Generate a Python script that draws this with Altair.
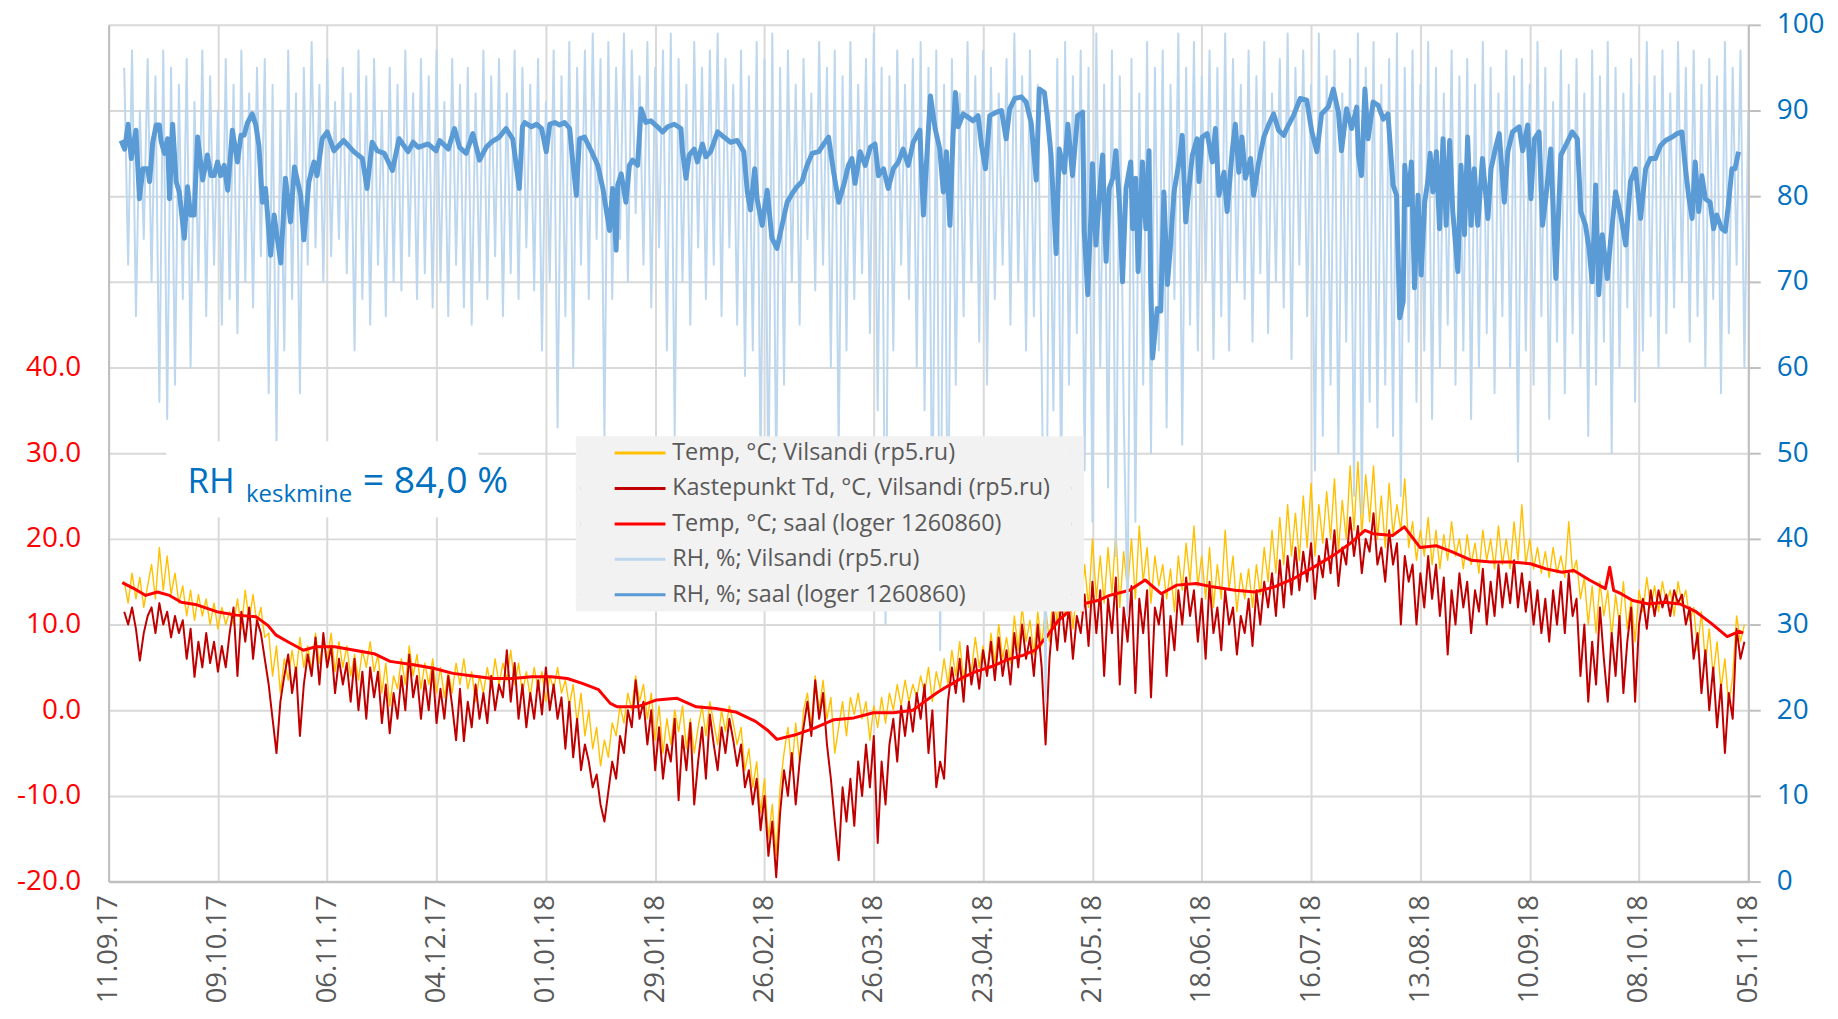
import altair as alt
import pandas as pd

# ---------------- axes / labels ----------------
x_tick_days = [0, 28, 56, 84, 112, 140, 168, 196, 224, 252, 280, 308, 336, 364, 392, 420]
x_tick_labels = ["11.09.17", "09.10.17", "06.11.17", "04.12.17", "01.01.18", "29.01.18",
                 "26.02.18", "26.03.18", "23.04.18", "21.05.18", "18.06.18", "16.07.18",
                 "13.08.18", "10.09.18", "08.10.18", "05.11.18"]
left_ticks = [-20, -10, 0, 10, 20, 30, 40]
right_ticks = [0, 10, 20, 30, 40, 50, 60, 70, 80, 90, 100]

series_names = ["Temp, °C; Vilsandi (rp5.ru)",
                "Kastepunkt Td, °C, Vilsandi (rp5.ru)",
                "Temp, °C; saal (loger 1260860)",
                "RH, %; Vilsandi (rp5.ru)",
                "RH, %; saal (loger 1260860)"]
series_colors = ["#FFC000", "#C00000", "#FF0000", "#BDD7EE", "#5B9BD5"]
line_widths = [1.4, 2.0, 3.0, 2.0, 5.0]

# ---------------- data (days after 11.09.17) ----------------
vil_first_day = 4

temp_vilsandi = [
    15, 12.5, 16, 13, 15.5, 12, 14.5,          # d4
    17, 13, 19, 14, 18, 13.5, 16,              # d11
    12.5, 14.5, 11, 14, 10.5, 13.5, 11,        # d18
    13, 10, 12.5, 9.5, 12, 10, 11.5,           # d25
    10, 13, 9.5, 14, 10.5, 13.5, 10,           # d32
    12, 8.5, 9, 4, 7.5, 2, 6,                  # d39
    3.5, 7, 4, 8.5, 5, 7.5, 4.5,               # d46
    9, 5.5, 8, 6, 9, 4.5, 8,                   # d53
    5, 7.5, 4, 6.5, 3.5, 7, 5,                 # d60
    8, 4.5, 6.5, 2, 5.5, 0.5, 4,               # d67
    2.5, 6, 3, 7.5, 4, 6.5, 2.5,               # d74
    5.5, 3, 6, 2, 5, 1.5, 4.5,                 # d81
    2, 5.5, 3, 6, 2.5, 4.5, 1,                 # d88
    4, 2, 5, 2.5, 6, 3, 5.5,                   # d95
    3.5, 7, 3, 5.5, 2, 4.5, 1.5,               # d102
    5, 2.5, 4.5, 1, 4, 2.5, 5,                 # d109
    2, 3.5, 0.5, 3, -1.5, 2, -3,               # d116
    0, -4.5, -2, -6.5, -3.5, -5.5, -1.5,       # d123
    -3, 0.5, -1.5, 2, 0, 4, 1,                 # d130
    3, -1, 2, -3.5, 0.5, -5, -1,               # d137
    -4, 0, -2.5, 0.5, -4.5, -1, -5,            # d144
    -2, 0.5, -3, 1, -1.5, -4, 0,               # d151
    -2.5, 0.5, -1.5, -4, -2, -7, -4.5,         # d158
    -9, -6, -12, -8, -15, -11, -17,            # d165
    -9, -5, -2, -7, -1.5, -6, 0,               # d172
    2, -2, 4, 0, 3.5, -1, 1.5,                 # d179
    -5, -2, 1, -3, 1.5, -0.5, 2,               # d186
    -1, 1, -3.5, 0.5, -2, 1.5, -1.5,           # d193
    2, 0, 3, 0.5, 3.5, 1, 3,                   # d200
    1.5, 4, 2, 5, 1, 4.5, 2.5,                 # d207
    6, 3, 7, 4, 8, 3.5, 6.5,                   # d214
    4.5, 8.5, 5, 7.5, 4, 9, 5.5,               # d221
    10, 6, 8.5, 5.5, 11, 7, 12,                # d228
    8, 10.5, 6.5, 11.5, 7.5, 12, 8,            # d235
    14, 10, 16.5, 11, 15, 9.5, 14,             # d242
    11.5, 17, 12, 20, 13, 18, 12.5,            # d249
    19, 13.5, 21, 12, 18.5, 14, 20,            # d256
    13, 21.5, 15, 19, 12.5, 18, 14.5,          # d263
    17, 13, 16.5, 11.5, 18, 14, 19.5,          # d270
    15, 21.5, 14.5, 18, 13, 19, 12,            # d277
    17, 13, 21, 14, 18, 11.5, 16,              # d284
    13, 16.5, 12, 17, 13.5, 19, 15,            # d291
    21, 16, 22.5, 17, 24, 18, 23,              # d298
    17.5, 25, 19, 26.5, 18, 24, 19.5,          # d305
    25.5, 20, 27, 18.5, 24.5, 20, 28.5,        # d312
    21, 29, 20.5, 27.5, 22, 28.5, 20,          # d319
    25, 19, 26.5, 20.5, 24, 21, 27,            # d326
    19, 22, 17.5, 21, 18, 22.5, 17,            # d333
    21, 16.5, 20.5, 17.5, 22, 18, 20,          # d340
    16.5, 20.5, 17, 19.5, 16, 21, 17.5,        # d347
    20, 16.5, 21.5, 17, 20, 16.5, 22,          # d354
    17.5, 24, 17, 20, 16.5, 19, 16,            # d361
    18.5, 15.5, 19, 16, 18, 15.5, 22,          # d368
    16, 17.5, 13, 15.5, 10, 14.5, 9,           # d375
    15, 11, 14, 8.5, 13.5, 10, 15,             # d382
    9.5, 13, 8, 14, 11.5, 15.5, 12,            # d389
    14.5, 11.5, 15, 12.5, 14, 11, 15,          # d396
    12.5, 14, 10.5, 12, 7, 11.5, 5.5,          # d403
    9.5, 4, 8, 2.5, 6, 0.5, 4,                 # d410
    11, 8, 10,                                 # d417
]

dew_vilsandi = [
    11.5, 10, 12, 9.5, 5.8, 9, 11,             # d4
    12, 9, 12.5, 10, 11.5, 8.5, 11,            # d11
    9, 10.5, 6, 9.5, 3.9, 8, 5,                # d18
    9, 5.5, 8, 4.5, 7.5, 5, 9,                 # d25
    12, 4, 11.5, 8, 12, 6, 10.5,               # d32
    9, 6, 3, -1, -5, 1, 4,                     # d39
    6.5, 2, 5, -3, 3, 6.5, 4,                  # d46
    8.5, 3, 9, 5, 7.5, 2, 6,                   # d53
    3, 5.5, 1, 6, 0, 4.5, -1,                  # d60
    5, 1.5, 4.5, -1.5, 3, -2.7, 2,             # d67
    -1, 4, 0, 6.5, 1.5, 4, -1,                 # d74
    3.5, 0, 5, -1.5, 2.5, -1, 4,               # d81
    0.5, -3.5, 2.5, -3.6, 1, -2, 3,            # d88
    -1, 2, -1.5, 4, 0, 3, 1.5,                 # d95
    7, 1, 5.5, -1, 3, -2, 2,                   # d102
    -1, 3.5, -0.5, 5, 0, 3, -1,                # d109
    1.5, -4.5, 1, -5.5, -1, -7, -4,            # d116
    -6, -9, -7.5, -11, -13, -9.5, -6,          # d123
    -8, -3, -5, 0, -2, 3.5, -1,                # d130
    1, -4, 0, -7, -2, -8, -4,                  # d137
    -6, -1, -10.5, -3, -7, -1.5, -11,          # d144
    -6, -2, -8, -0.5, -4, -7, -2,              # d151
    -5, -1, -3.5, -6.5, -4, -9, -7,            # d158
    -11, -8, -14, -10, -17, -13, -19.5,        # d165
    -12, -7, -10, -5, -11, -6, -2,             # d172
    1, -3, 3.5, -1, 2, -4, -8,                 # d179
    -13, -17.5, -9, -13, -8, -13.5, -6,        # d186
    -10, -4, -9, -3, -15.5, -6, -11,           # d193
    -4, -1, -6, 0.5, -3, 1, -2.5,              # d200
    2, -1, 3, -5, 0, -9, -6,                   # d207
    -8, 1, 5, 2, 6, 1, 7.5,                    # d214
    3, 6, 2.5, 7, 4, 8, 3.5,                   # d221
    8.5, 4, 7, 3, 9, 5, 10,                    # d228
    6, 8.5, 4, 10, 5, -4, 6,                   # d235
    11.5, 7, 13, 8, 12, 6, 11,                 # d242
    9, 13.5, 7.5, 15, 9, 14, 4,                # d249
    13, 9, 15.5, 3, 12, 8, 14.5,               # d256
    2, 13, 9, 14, 1.5, 12, 10,                 # d263
    13.5, 4, 11, 7, 14, 10, 15.5,              # d270
    11, 14, 8, 13, 6, 15, 9,                   # d277
    12, 7, 14, 10, 12, 6.5, 11,                # d284
    9, 13, 7.5, 14, 10, 15, 12,                # d291
    16, 11, 17.5, 12, 18, 13.5, 19,            # d298
    14, 18.5, 15, 19.5, 13, 18, 15.5,          # d305
    20, 16, 21, 14.5, 19, 17, 22.5,            # d312
    18, 21.5, 16, 20, 18.5, 23, 17,            # d319
    19, 15, 21, 17, 19.5, 10, 18,              # d326
    15, 17, 10, 16, 12, 18, 13,                # d333
    17, 11, 15.5, 6.5, 14, 10, 16,             # d340
    12, 15, 9, 14, 11.5, 16.5, 10,             # d347
    15, 11, 17, 12, 16, 12.5, 17.5,            # d354
    12, 16, 11.5, 15, 10, 14, 9,               # d361
    13, 8, 14, 10, 15, 9, 16,                  # d368
    11, 13, 4, 10, 1, 8, 3,                    # d375
    12, 6, 1, 9, 4, 11, 2,                     # d382
    8, 12, 1, 10, 13, 9.5, 14,                 # d389
    11, 14, 12, 13.5, 11, 14, 12.5,            # d396
    13.5, 10, 12, 6, 9, 2, 7,                  # d403
    0, 5, -2, 3, -5, 2, -1,                    # d410
    9.5, 6, 8,                                 # d417
]

rh_vilsandi = [
    95, 72, 97, 66, 90, 75, 96,    # d4
    70, 94, 56, 97, 54, 95, 58,    # d11
    93, 68, 96, 60, 91, 70, 97,    # d18
    66, 94, 72, 90, 65, 96, 68,    # d25
    93, 64, 97, 70, 92, 67, 95,    # d32
    73, 96, 57, 93, 51, 90, 62,    # d39
    97, 68, 92, 57, 95, 72, 98,    # d46
    74, 93, 70, 96, 73, 91, 75,    # d53
    95, 71, 92, 62, 97, 68, 94,    # d60
    65, 96, 72, 90, 66, 95, 70,    # d67
    93, 69, 97, 73, 92, 68, 96,    # d74
    71, 94, 67, 97, 70, 91, 66,    # d81
    96, 72, 93, 67, 95, 65, 92,    # d88
    70, 97, 68, 94, 73, 96, 66,    # d95
    92, 71, 97, 68, 95, 74, 93,    # d102
    69, 96, 62, 91, 70, 97, 53,    # d109
    94, 66, 98, 60, 95, 72, 97,    # d116
    68, 99, 75, 96, 52, 98, 68,    # d123
    95, 75, 99, 70, 97, 78, 94,    # d130
    72, 98, 67, 95, 74, 97, 62,    # d137
    99, 52, 96, 70, 93, 65, 98,    # d144
    74, 95, 68, 97, 72, 99, 66,    # d151
    96, 74, 93, 65, 97, 59, 94,    # d158
    62, 98, 48, 96, 44, 99, 46,    # d165
    95, 58, 97, 70, 93, 65, 96,    # d172
    75, 92, 69, 98, 72, 95, 60,    # d179
    97, 50, 94, 62, 98, 68, 93,    # d186
    71, 96, 64, 99, 55, 95, 30,    # d193
    94, 62, 97, 72, 93, 68, 96,    # d200
    60, 98, 55, 95, 40, 97, 27,    # d207
    93, 35, 96, 58, 92, 66, 98,    # d214
    70, 94, 63, 97, 58, 95, 68,    # d221
    92, 72, 96, 65, 99, 70, 94,    # d228
    62, 97, 66, 93, 60, 21, 90,    # d235
    55, 96, 45, 98, 58, 94, 64,    # d242
    97, 48, 95, 42, 99, 60, 93,    # d249
    46, 97, 38, 94, 55, 31, 96,    # d256
    42, 92, 58, 98, 50, 95, 62,    # d263
    97, 53, 93, 68, 99, 51, 95,    # d270
    65, 98, 62, 94, 70, 97, 61,    # d277
    95, 66, 99, 62, 96, 70, 93,    # d284
    68, 97, 63, 94, 71, 98, 64,    # d291
    92, 70, 96, 67, 99, 61, 95,    # d298
    72, 97, 66, 93, 48, 99, 52,    # d305
    94, 58, 97, 50, 92, 63, 96,    # d312
    45, 99, 43, 95, 56, 98, 53,    # d319
    93, 58, 96, 52, 99, 45, 95,    # d326
    63, 97, 56, 93, 62, 98, 54,    # d333
    95, 60, 92, 65, 97, 58, 94,    # d340
    62, 96, 54, 93, 60, 98, 64,    # d347
    95, 57, 92, 66, 97, 60, 94,    # d354
    49, 96, 62, 93, 58, 98, 66,    # d361
    95, 54, 91, 63, 97, 57, 93,    # d368
    64, 96, 60, 92, 52, 97, 58,    # d375
    94, 63, 98, 50, 95, 60, 92,    # d382
    67, 96, 56, 93, 62, 98, 66,    # d389
    94, 60, 97, 64, 92, 67, 98,    # d396
    70, 95, 63, 97, 66, 93, 60,    # d403
    96, 68, 94, 57, 98, 64, 95,    # d410
    72, 97, 60, 90,                # d417
]

temp_saal = [
    (3.5, 14.9), (6.5, 14.2), (9.5, 13.4), (12.5, 13.8), (15.6, 13.4), (18.6, 12.6),
    (22.6, 12.3), (27.7, 11.5), (32.7, 11.1), (37.8, 10.9), (40.8, 9.9), (42.8, 8.8),
    (45.9, 8.0), (49.9, 7.0), (52.9, 7.4), (57.9, 7.4), (63, 7.0), (68, 6.6),
    (72.1, 5.7), (78.1, 5.3), (83.2, 4.9), (88.2, 4.3), (93.3, 4.0), (98.3, 3.7),
    (103.4, 3.7), (108.4, 3.9), (113.4, 3.9), (117.5, 3.7), (121.5, 3.1), (125.5, 2.4),
    (128.5, 0.8), (130.3, 0.4), (135.4, 0.4), (140.4, 1.2), (145.5, 1.4), (150.5, 0.4),
    (155.6, 0.2), (160.6, -0.2), (165.7, -1.3), (168.7, -2.3), (171.2, -3.4), (175.7, -2.9),
    (180.8, -2.1), (185.8, -1.1), (190.9, -0.9), (195.9, -0.3), (201, -0.3), (206, 0.0),
    (209, 1.0), (212.1, 2.0), (214.1, 2.6), (216.1, 3.1), (219.1, 3.9), (222.1, 4.5),
    (226.2, 5.1), (230.2, 5.9), (234.2, 6.4), (237.3, 7.0), (240.3, 8.6), (243.3, 10.5),
    (246.4, 11.7), (249.4, 12.4), (253.4, 12.8), (256.4, 13.4), (261.5, 14.0), (265.5, 15.2),
    (269.6, 13.6), (273.6, 14.6), (278.6, 14.8), (282.7, 14.4), (288.5, 14.0), (293.6, 13.8),
    (298.6, 14.4), (303.7, 15.4), (308.7, 16.7), (313.8, 18.1), (317.8, 19.4), (321.8, 21.0),
    (323.9, 20.6), (328.9, 20.4), (331.9, 21.4), (335.9, 19.0), (340, 19.2), (344, 18.5),
    (349.1, 17.5), (354.1, 17.3), (359.2, 17.3), (364.2, 17.1), (368.2, 16.5), (372.3, 16.1),
    (375.3, 16.3), (379.3, 15.2), (383.4, 14.2), (384.5, 16.7), (385.5, 14.0), (387.4, 13.6),
    (390.4, 12.8), (394.5, 12.4), (398.5, 12.6), (402.5, 12.4), (406.6, 11.5), (410.6, 10.1),
    (414.6, 8.6), (417.7, 9.2), (418.7, 9.0),
]

rh_saal = [
    (3.2, 86.5), (4.1, 85.5), (5.0, 88.4), (5.8, 84.4), (7.0, 87.7), (7.9, 79.7), (8.8, 83.2),
    (10.0, 83.2), (10.5, 81.7), (11.3, 86.3), (12.2, 88.3), (13.0, 88.3), (13.4, 86.5), (14.3, 85.0),
    (15.1, 86.7), (15.6, 79.7), (16.4, 88.4), (17.3, 81.7), (18.1, 80.5), (19.4, 75.1), (20.2, 81.1),
    (21.0, 77.8), (21.9, 77.8), (22.8, 86.9), (24.1, 81.9), (25.3, 84.8), (26.2, 82.4), (27.0, 82.4),
    (27.9, 84.0), (28.7, 82.4), (29.6, 83.6), (30.5, 80.7), (31.7, 87.7), (33.0, 84.0), (33.9, 87.1),
    (34.7, 87.1), (35.6, 88.6), (36.8, 89.6), (37.7, 88.3), (38.5, 85.9), (39.4, 79.3), (40.2, 80.9),
    (41.5, 73.1), (42.4, 77.8), (43.2, 75.1), (44.1, 72.2), (45.3, 82.1), (46.6, 77.0), (47.6, 83.4),
    (49.2, 80.1), (50.0, 74.9), (51.3, 81.7), (52.6, 84.0), (53.4, 82.4), (54.7, 86.7), (56.0, 87.5),
    (57.7, 85.3), (60.2, 86.5), (62.8, 85.2), (65.0, 84.4), (66.2, 80.9), (67.5, 86.3), (68.8, 85.3),
    (70.6, 85.0), (72.7, 83.0), (74.4, 86.7), (76.7, 85.2), (78.0, 86.3), (79.3, 85.7), (81.8, 86.1),
    (83.9, 85.3), (84.8, 86.5), (87.0, 85.5), (88.6, 87.9), (89.9, 85.7), (91.6, 85.0), (93.3, 87.3),
    (95.0, 84.2), (96.7, 85.7), (98.0, 86.3), (100.1, 86.9), (101.8, 87.9), (103.5, 86.7), (105.2, 80.9),
    (106.0, 88.1), (106.6, 88.6), (108.3, 88.1), (109.6, 88.4), (110.9, 87.9), (112.1, 85.2), (113.0, 88.4),
    (114.3, 88.6), (115.5, 88.3), (116.8, 88.6), (118.1, 87.9), (118.9, 84.0), (119.8, 80.1), (120.6, 86.7),
    (121.9, 86.9), (123.6, 85.3), (125.3, 83.6), (126.6, 80.9), (127.4, 78.6), (128.3, 76.0), (129.1, 80.9),
    (130.0, 73.7), (130.4, 81.3), (131.3, 82.6), (132.5, 79.3), (133.4, 83.6), (134.2, 84.2), (135.5, 83.6),
    (136.4, 90.2), (137.6, 88.6), (138.9, 88.8), (140.6, 88.1), (141.9, 87.5), (143.2, 88.1), (144.9, 88.4),
    (146.6, 87.9), (147.0, 85.2), (147.9, 82.1), (148.7, 84.8), (150.0, 85.5), (150.8, 84.0), (152.1, 86.1),
    (153.0, 84.6), (154.2, 85.2), (156.0, 87.5), (157.6, 86.9), (159.3, 86.3), (161.0, 86.5), (162.7, 85.2),
    (163.6, 80.5), (164.4, 78.4), (165.5, 83.2), (166.1, 79.7), (167.4, 76.6), (168.7, 80.7), (169.9, 75.1),
    (171.2, 73.9), (172.5, 76.6), (173.8, 79.3), (175.1, 80.3), (176.3, 81.1), (177.6, 81.7), (178.9, 83.6),
    (180.2, 85.0), (181.9, 85.2), (183.2, 86.1), (184.4, 86.9), (185.7, 82.8), (187.0, 79.3), (188.3, 81.3),
    (189.5, 83.6), (190.4, 84.4), (191.2, 81.5), (192.5, 85.2), (193.8, 83.6), (195.1, 85.7), (196.3, 86.1),
    (197.2, 82.4), (198.5, 83.2), (199.7, 80.9), (201.0, 83.2), (202.3, 84.0), (203.5, 85.5), (204.8, 83.6),
    (206.1, 86.3), (207.8, 87.7), (208.7, 77.8), (209.7, 85.5), (210.5, 91.7), (211.7, 87.9), (212.9, 85.5),
    (213.8, 80.5), (214.6, 85.2), (215.5, 76.6), (216.3, 87.1), (216.9, 92.1), (217.6, 88.1), (218.9, 89.6),
    (220.2, 89.2), (221.4, 88.8), (222.7, 89.4), (223.6, 85.9), (224.6, 83.2), (225.7, 89.4), (227.4, 89.8),
    (228.7, 90.0), (229.9, 86.7), (230.8, 90.2), (232.1, 91.4), (233.8, 91.6), (235.0, 91.0), (236.3, 88.6),
    (237.6, 81.9), (238.4, 92.5), (239.7, 92.1), (240.6, 88.6), (241.4, 84.8), (242.7, 73.3), (243.5, 85.5),
    (244.8, 82.8), (245.7, 88.4), (246.9, 82.4), (248.2, 89.4), (249.5, 89.8), (249.9, 75.9), (250.8, 68.5),
    (251.6, 77.8), (252.0, 83.8), (252.9, 74.3), (253.8, 80.1), (254.6, 84.8), (255.5, 72.4), (256.3, 80.9),
    (257.2, 82.1), (258.0, 85.3), (258.9, 79.3), (259.7, 70.0), (260.6, 80.9), (261.8, 84.0), (262.3, 76.2),
    (263.1, 82.1), (263.7, 71.2), (264.8, 84.0), (265.7, 76.2), (266.5, 85.3), (266.9, 70.4), (267.4, 61.1),
    (268.6, 66.9), (269.5, 66.6), (270.3, 80.5), (271.2, 69.7), (272.0, 74.3), (272.9, 80.5), (274.2, 84.0),
    (275.0, 87.1), (275.9, 77.0), (276.7, 80.9), (277.6, 84.8), (278.8, 86.7), (279.3, 81.7), (280.1, 86.9),
    (281.4, 87.3), (282.7, 84.0), (283.5, 87.9), (284.4, 80.1), (285.7, 82.8), (286.5, 78.2), (287.8, 85.2),
    (288.6, 88.4), (289.5, 82.8), (290.3, 86.9), (291.2, 82.1), (292.5, 84.4), (293.3, 80.1), (294.6, 84.0),
    (295.9, 86.9), (297.1, 88.3), (298.4, 89.6), (299.7, 87.7), (301.0, 87.1), (302.2, 88.3), (303.5, 89.4),
    (305.2, 91.4), (306.9, 91.2), (308.2, 87.5), (309.5, 85.2), (310.7, 89.6), (312.4, 90.4), (313.7, 92.5),
    (315.0, 89.8), (315.8, 85.3), (317.1, 90.2), (318.4, 87.9), (319.7, 90.4), (320.1, 84.8), (320.9, 82.4),
    (321.8, 92.5), (322.6, 86.7), (323.9, 91.0), (325.2, 90.6), (326.5, 89.0), (327.7, 89.6), (329.0, 81.3),
    (329.9, 80.1), (330.7, 65.8), (331.6, 67.7), (332.0, 83.6), (332.8, 79.0), (333.7, 84.0), (334.5, 69.3),
    (335.4, 80.1), (336.2, 70.8), (337.1, 79.3), (337.9, 81.7), (338.5, 85.0), (339.2, 80.5), (340.1, 85.2),
    (340.9, 76.2), (341.8, 86.7), (342.6, 76.6), (343.5, 86.5), (344.3, 78.2), (345.6, 71.2), (346.4, 83.6),
    (347.3, 75.5), (348.1, 86.9), (349.0, 76.6), (349.8, 83.2), (350.7, 76.6), (351.9, 84.4), (353.3, 77.4),
    (354.1, 83.2), (355.4, 85.9), (356.2, 87.3), (357.5, 79.3), (358.4, 85.2), (359.6, 87.5), (361.3, 88.1),
    (362.2, 85.3), (363.5, 88.3), (364.3, 79.7), (365.2, 86.7), (366.4, 87.5), (367.3, 76.6), (368.1, 79.7),
    (369.4, 85.5), (370.7, 70.4), (372.0, 84.8), (373.2, 85.9), (374.9, 87.5), (376.2, 86.7), (377.1, 78.2),
    (378.3, 76.6), (379.2, 73.9), (380.0, 70.0), (380.9, 81.3), (381.7, 68.5), (382.6, 75.5), (383.9, 70.4),
    (384.7, 74.7), (386.0, 80.5), (387.3, 77.8), (388.6, 74.3), (389.8, 81.7), (391.1, 83.2), (392.4, 77.4),
    (393.7, 83.2), (394.9, 84.4), (396.2, 84.4), (397.5, 85.9), (398.8, 86.5), (400.5, 86.9), (401.7, 87.3),
    (403.0, 87.5), (403.9, 83.2), (404.7, 80.1), (405.6, 77.4), (406.4, 84.0), (407.3, 78.2), (408.1, 82.4),
    (409.0, 79.7), (410.2, 79.3), (411.1, 76.2), (411.9, 77.8), (413.2, 76.2), (414.1, 75.9), (414.9, 79.0),
    (415.8, 83.2), (416.6, 83.2), (417.5, 85.2),
]

# annotation "RH keskmine = 84,0 %" (positions in days / RH units)
ann_text = ["RH", "keskmine", "= 84,0 %"]
ann_day = [20.2, 35.2, 65.1]
ann_rh = [45.4, 44.3, 45.4]
ann_size = [35, 24, 37.5]
ann_box_day = [14.8, 94.7]
ann_box_rh = [42.5, 51.4]


def daily(vals, name):
    return pd.DataFrame({"day": [vil_first_day + i for i in range(len(vals))],
                         "value": vals, "series": name})


def pairs(pts, name):
    return pd.DataFrame({"day": [p[0] for p in pts], "value": [p[1] for p in pts], "series": name})


FONT = "Open Sans"

label_expr = "[" + ",".join("'%s'" % s for s in x_tick_labels) + "][round(datum.value/28)]"
x_axis = alt.Axis(values=x_tick_days, labelExpr=label_expr, labelAngle=-90, labelFontSize=27.5,
                  labelColor="#595959", labelFont=FONT, labelPadding=13, labelFlush=False,
                  labelOverlap=False, grid=True, gridColor="#D9D9D9", gridWidth=2, ticks=False,
                  domainColor="#BFBFBF", domainWidth=2.5, title=None)
x_scale = alt.Scale(domain=[0, 420], nice=False, zero=False)

t_scale = alt.Scale(domain=[-20, 80], nice=False, zero=False)
t_axis = alt.Axis(orient="left", values=left_ticks,
                  labelExpr="(datum.value < 0 ? '-' : '') + format(abs(datum.value), '.1f')",
                  labelColor="#FF0000", labelFontSize=28, labelFont=FONT, labelPadding=28,
                  grid=False, ticks=False, domainColor="#BFBFBF", domainWidth=2, title=None)

rh_scale = alt.Scale(domain=[0, 100], nice=False, zero=False)
rh_axis = alt.Axis(orient="right", values=right_ticks, format="d", labelColor="#0070C0",
                   labelFontSize=28, labelFont=FONT, labelPadding=16, grid=True,
                   gridColor="#D9D9D9", gridWidth=2, ticks=True, tickSize=12, tickColor="#BFBFBF",
                   tickWidth=2, domainColor="#BFBFBF", domainWidth=2, title=None)

# legend symbol: visible short line, plus two invisible anchor points that set the box extent
legend = alt.Legend(title=None, orient="none", legendX=469, legendY=413, zindex=1,
                    fillColor="#F2F2F2", padding=5, rowPadding=10.6,
                    labelFont=FONT, labelFontSize=23.5, labelColor="#595959", labelLimit=800,
                    symbolType="M-7,0L-6.99,0M-3,0H3M51,0L51.01,0", symbolSize=289,
                    symbolStrokeWidth=3, symbolOffset=47.75, labelOffset=20.5,
                    symbolFillColor="transparent")

color_enc = alt.Color("series:N", scale=alt.Scale(domain=series_names, range=series_colors),
                      legend=legend)


def line(df, width, y_scale, y_axis):
    return alt.Chart(df).mark_line(strokeWidth=width, strokeJoin="round", clip=True).encode(
        x=alt.X("day:Q", scale=x_scale, axis=x_axis),
        y=alt.Y("value:Q", scale=y_scale, axis=y_axis),
        color=color_enc,
    )


df_tv = daily(temp_vilsandi, series_names[0])
df_td = daily(dew_vilsandi, series_names[1])
df_ts = pairs(temp_saal, series_names[2])
df_rv = daily(rh_vilsandi, series_names[3])
df_rs = pairs(rh_saal, series_names[4])

temp_group = alt.layer(
    line(df_tv, line_widths[0], t_scale, t_axis),
    line(df_td, line_widths[1], t_scale, t_axis),
    line(df_ts, line_widths[2], t_scale, t_axis),
)

box_df = pd.DataFrame({"day": [ann_box_day[0]], "day2": [ann_box_day[1]],
                       "value": [ann_box_rh[0]], "value2": [ann_box_rh[1]]})
box = alt.Chart(box_df).mark_rect(color="white").encode(
    x=alt.X("day:Q", scale=x_scale, axis=x_axis), x2="day2:Q",
    y=alt.Y("value:Q", scale=rh_scale, axis=rh_axis), y2="value2:Q")

txt_df = pd.DataFrame({"day": ann_day, "value": ann_rh, "label": ann_text, "fs": ann_size})
txt = alt.Chart(txt_df).mark_text(align="left", baseline="alphabetic", color="#0070C0",
                                  font=FONT).encode(
    x=alt.X("day:Q", scale=x_scale, axis=x_axis),
    y=alt.Y("value:Q", scale=rh_scale, axis=rh_axis),
    text="label:N",
    size=alt.Size("fs:Q", scale=None, legend=None))

rh_group = alt.layer(
    line(df_rv, line_widths[3], rh_scale, rh_axis),
    line(df_rs, line_widths[4], rh_scale, rh_axis),
    box, txt,
)

chart = alt.layer(temp_group, rh_group).resolve_scale(y="independent").properties(
    width=1646, height=860,
    padding={"left": 101, "top": 15, "right": 82, "bottom": 121},
    autosize=alt.AutoSizeParams(type="none"),
    background="white",
).configure(font=FONT).configure_view(stroke=None)

chart.save("out.html", embed_options={"renderer": "svg", "actions": False})
